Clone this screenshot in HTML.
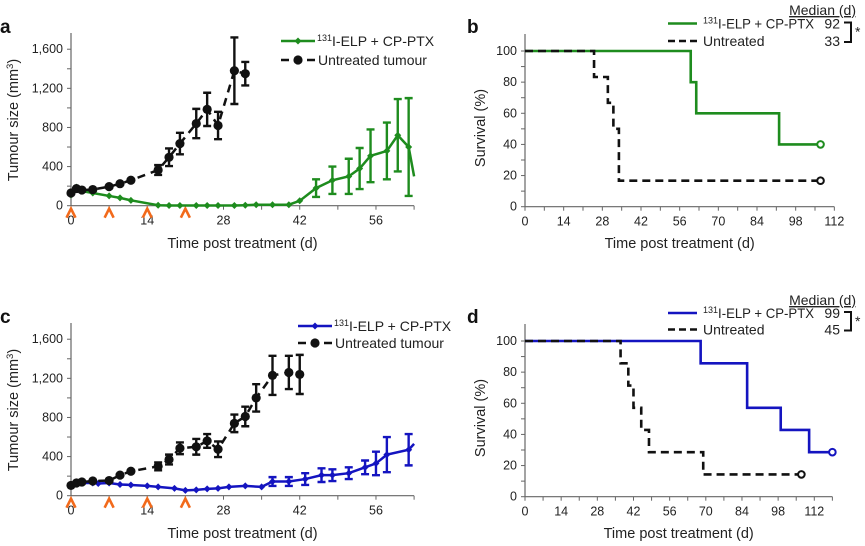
<!DOCTYPE html>
<html><head><meta charset="utf-8"><style>
html,body{margin:0;padding:0;background:#fff;}
svg{display:block;font-family:"Liberation Sans",sans-serif;}
</style></head><body>
<svg id="root" width="865" height="546" viewBox="0 0 865 546"></svg>
<script>
// ---- Panel a data ----
const aUntDays=[0,1,2,4,7,9,11,16,18,20,23,25,27,30,32];
const aUntVals=[130,175,160,165,195,225,260,365,495,635,840,985,820,1380,1350];
const aUntErr=[0,0,0,0,0,0,0,50,90,110,150,170,140,340,120];
const aTrtDays=[0,1,2,4,7,9,11,16,18,20,23,25,27,30,32,34,37,40,42,45,48,51,53,55,58,60,62,63];
const aTrtVals=[110,190,150,130,100,80,55,5,2,2,2,2,2,2,5,10,10,10,50,180,260,300,380,510,560,720,600,300];
const aTrtErr=[0,0,0,0,0,0,0,0,0,0,0,0,0,0,0,0,0,0,0,90,140,180,210,270,290,370,500,0];
// ---- Panel c data ----
const cUntDays=[0,1,2,4,7,9,11,16,18,20,23,25,27,30,32,34,37,40,42];
const cUntVals=[105,130,140,150,155,210,250,300,370,485,500,560,475,740,810,1000,1230,1260,1240];
const cUntErr=[0,0,0,0,0,0,0,40,50,60,80,70,80,90,100,140,200,170,200];
const cTrtDays=[0,1,2,4,5,7,9,11,14,16,19,21,23,25,27,29,32,35,37,40,43,46,48,51,54,56,58,62,63];
const cTrtVals=[110,125,130,130,125,130,115,110,100,90,75,55,60,70,75,90,100,90,145,145,170,210,210,230,290,330,420,470,530];
const cTrtErr=[0,0,0,0,0,0,0,0,0,0,0,0,0,0,0,0,0,0,45,45,60,70,60,60,70,120,180,160,0];
const treatDays=[0,7,14,21];
// ---- Survival data ----
const bTrtT=[0,60,62,92,107];
const bTrtS=[100,80,60,40,40];
const bUntT=[0,25,30,32,34,107];
const bUntS=[100,83.3,66.7,50,16.7,16.7];
const dTrtT=[0,68,86,99,110,119];
const dTrtS=[100,85.7,57.1,42.9,28.6,28.6];
const dUntT=[0,37,40,42,45,48,69,107];
const dUntS=[100,85.7,71.4,57.1,42.9,28.6,14.3,14.3];
const yTicksTumour=[0,400,800,1200,1600];
const yTickLabelsTumour=["0","400","800","1,200","1,600"];
const xTicksTumour=[0,14,28,42,56];
const ySurv=[0,20,40,60,80,100];

const NS="http://www.w3.org/2000/svg";
const root=document.getElementById('root');
function el(tag,attrs,parent,txt){const e=document.createElementNS(NS,tag);for(const k in attrs)e.setAttribute(k,attrs[k]);if(txt!==undefined)e.textContent=txt;(parent||root).appendChild(e);return e;}
function grp(name){const g=el('g',{});return g;}

function axes(g,x0,x1,yb,yt,xs,ys,xmax,xminorStep,xLabels,yminor,yLabels,yLabelTxt,xTitleY,yTitle,xTitle,ymax){
  el('line',{x1:x0,y1:yb,x2:x1,y2:yb,stroke:'#666','stroke-width':1.2},g);
  el('line',{x1:x0,y1:yb,x2:x0,y2:yt,stroke:'#666','stroke-width':1.2},g);
  for(let d=0;d<=xmax+0.01;d+=xminorStep){const X=xs(d);el('line',{x1:X,y1:yb,x2:X,y2:yb+4,stroke:'#666','stroke-width':1},g);}
  xLabels.forEach(v=>{const t=el('text',{x:xs(v),y:yb+19,'text-anchor':'middle','font-size':12.5,fill:'#222'},g,String(v));});
  for(let v=0;v<=ymax+0.01;v+=yminor){const Y=ys(v);el('line',{x1:x0-4,y1:Y,x2:x0,y2:Y,stroke:'#666','stroke-width':1},g);}
  yLabels.forEach((v,i)=>{const t=el('text',{x:x0-8,y:ys(v)+4,'text-anchor':'end','font-size':12.5,fill:'#222'},g,yLabelTxt[i]);});
  const xt=el('text',{x:(x0+x1)/2,y:xTitleY,'text-anchor':'middle','font-size':14.5,fill:'#222'},g,xTitle);
  
  return xt;
}
function errBars(g,days,vals,errs,xs,ys,col){
  days.forEach((d,i)=>{if(!errs[i])return;const X=xs(d),Y1=ys(vals[i]+errs[i]),Y2=ys(Math.max(0,vals[i]-errs[i]));
    const p=el('path',{d:`M${X},${Y1}V${Y2}M${X-4},${Y1}H${X+4}M${X-4},${Y2}H${X+4}`,stroke:col,'stroke-width':2.4,fill:'none'},g);
    });
}
function line(g,days,vals,xs,ys,col,dash,name){
  const p=el('polyline',{points:days.map((d,i)=>xs(d)+','+ys(vals[i])).join(' '),stroke:col,'stroke-width':2.5,fill:'none'},g);
  if(dash)p.setAttribute('stroke-dasharray',dash);
  
}
function circles(g,days,vals,xs,ys){days.forEach((d,i)=>{const c=el('circle',{cx:xs(d),cy:ys(vals[i]),r:4.6,fill:'#111'},g);});}
function diamonds(g,days,vals,xs,ys,col,last){days.forEach((d,i)=>{if(i===days.length-1&&!last)return;const X=xs(d),Y=ys(vals[i]);const p=el('path',{d:`M${X},${Y-3.5}L${X+3.5},${Y}L${X},${Y+3.5}L${X-3.5},${Y}Z`,fill:col},g);});}
function arrows(g,xs,yb){treatDays.forEach(d=>{const X=xs(d);const p=el('path',{d:`M${X-4.5},${yb+12}L${X},${yb+3}L${X+4.5},${yb+12}`,stroke:'#f26a1b','stroke-width':2.6,fill:'none'},g);});}
function panelLabel(txt,x,y){const t=el('text',{x:x,y:y,'font-size':19,'font-weight':'bold',fill:'#111'},root,txt);}
function yTitle(g,cx,cy,sup){const t=el('text',{transform:`translate(${cx},${cy}) rotate(-90)`,'text-anchor':'middle','font-size':14.5,fill:'#222'},g);
  
  if(sup){t.appendChild(document.createTextNode('Tumour size (mm'));el('tspan',{'font-size':9.5,dy:-5},t,'3');el('tspan',{dy:5},t,')');}
  else t.textContent='Survival (%)';}

function tumourPanel(letter,top,untD,untV,untE,trtD,trtV,trtE,col,legX,legY1,legY2){
  const g=grp('panel-'+letter);
  const x0=71,x1=414,yb=top+205.7,yt=top+33;
  const xs=d=>71+d*5.446;
  const ys=v=>yb-v*0.0978;
  panelLabel(letter,0,top+33);
  axes(g,x0,x1,yb,yt,xs,ys,63,7,xTicksTumour,200,yTicksTumour,yTickLabelsTumour,top+248,'','Time post treatment (d)',1600);
  yTitle(g,18,top+120,true);
  arrows(g,xs,yb);
  errBars(g,trtD,trtV,trtE,xs,ys,col);
  line(g,trtD,trtV,xs,ys,col,null,'treated-line');
  diamonds(g,trtD,trtV,xs,ys,col,false);
  errBars(g,untD,untV,untE,xs,ys,'#111');
  line(g,untD,untV,xs,ys,'#111','8,6','untreated-line');
  circles(g,untD,untV,xs,ys);
  const lg=grp('legend-'+letter);
  el('line',{x1:legX,y1:legY1,x2:legX+34,y2:legY1,stroke:col,'stroke-width':2.4},lg);
  el('path',{d:`M${legX+17},${legY1-3.5}l3.5,3.5l-3.5,3.5l-3.5,-3.5z`,fill:col},lg);
  const t1=el('text',{x:legX+36,y:legY1+5,'font-size':14,fill:'#222'},lg);
  
  el('tspan',{'font-size':9,dy:-5},t1,'131');el('tspan',{dy:5},t1,'I-ELP + CP-PTX');
  el('line',{x1:legX,y1:legY2,x2:legX+34,y2:legY2,stroke:'#111','stroke-width':2.6,'stroke-dasharray':'8,5'},lg);
  el('circle',{cx:legX+17,cy:legY2,r:4.6,fill:'#111'},lg);
  const t2=el('text',{x:legX+37,y:legY2+5,'font-size':14,fill:'#222'},lg,'Untreated tumour');
  
}
tumourPanel('a',0,aUntDays,aUntVals,aUntErr,aTrtDays,aTrtVals,aTrtErr,'#1e8c1e',281,41,60);
tumourPanel('c',290,cUntDays,cUntVals,cUntErr,cTrtDays,cTrtVals,cTrtErr,'#1414c0',298,326,343);

function step(T,S){const pts=[[T[0],S[0]]];for(let i=1;i<T.length;i++){pts.push([T[i],S[i-1]]);pts.push([T[i],S[i]]);}return pts;}
function survPanel(letter,top,xmaxScale,xAxisEnd,xLabelsArr,trtT,trtS,untT,untS,col,m1,m2){
  const g=grp('panel-'+letter);
  const x0=525,yb=top+206.7,yt=top+34;
  const xs=d=>525+d*xmaxScale;
  const ys=v=>yb-v*1.557;
  panelLabel(letter,467,top+33);
  axes(g,x0,xs(xAxisEnd),yb,yt,xs,ys,xAxisEnd,7,xLabelsArr,10,ySurv,ySurv.map(String),top+248,'','Time post treatment (d)',100);
  yTitle(g,485,top+128,false);
  const pu=step(untT,untS),pt=step(trtT,trtS);
  const mk=(pts,c,dash,name)=>{const p=el('polyline',{points:pts.map(q=>xs(q[0])+','+ys(q[1])).join(' '),stroke:c,'stroke-width':2.6,fill:'none'},g);if(dash)p.setAttribute('stroke-dasharray',dash);};
  mk(pt,col,null,'treated-survival-line');
  mk(pu,'#111','8,5','untreated-survival-line');
  const c1=el('circle',{cx:xs(trtT[trtT.length-1]),cy:ys(trtS[trtS.length-1]),r:3.3,fill:'#fff',stroke:col,'stroke-width':2},g);
  const c2=el('circle',{cx:xs(untT[untT.length-1]),cy:ys(untS[untS.length-1]),r:3.3,fill:'#fff',stroke:'#111','stroke-width':2},g);
  const lg=grp('legend-'+letter);
  const r1=top+(letter==='b'?23.5:23),r2=top+(letter==='b'?41:39.5);
  const md=el('text',{x:856,y:top+15,'text-anchor':'end','font-size':14,fill:'#222','text-decoration':'underline'},lg,'Median (d)');
  
  el('line',{x1:668,y1:r1,x2:697,y2:r1,stroke:col,'stroke-width':2.4},lg);
  el('line',{x1:668,y1:r2,x2:697,y2:r2,stroke:'#111','stroke-width':2.4,'stroke-dasharray':'7,4'},lg);
  const t1=el('text',{x:703,y:r1+5,'font-size':14,fill:'#222'},lg);
  
  el('tspan',{'font-size':9,dy:-5},t1,'131');el('tspan',{dy:5,textLength:96,lengthAdjust:'spacingAndGlyphs'},t1,'I-ELP + CP-PTX');
  const t2=el('text',{x:703,y:r2+5,'font-size':14,fill:'#222'},lg,'Untreated');
  
  el('text',{x:840,y:r1+5,'text-anchor':'end','font-size':14,fill:'#222'},lg,m1);
  el('text',{x:840,y:r2+5,'text-anchor':'end','font-size':14,fill:'#222'},lg,m2);
  el('path',{d:`M844,${r1-1}H851V${r2+1}H844`,stroke:'#111','stroke-width':2,fill:'none'},lg);
  el('text',{x:855,y:r1+13,'font-size':14,fill:'#222'},lg,'*');
}
survPanel('b',0,2.762,112,[0,14,28,42,56,70,84,98,112],bTrtT,bTrtS,bUntT,bUntS,'#1e8c1e','92','33');
survPanel('d',290,2.583,119,[0,14,28,42,56,70,84,98,112],dTrtT,dTrtS,dUntT,dUntS,'#1414c0','99','45');
</script>
</body></html>
